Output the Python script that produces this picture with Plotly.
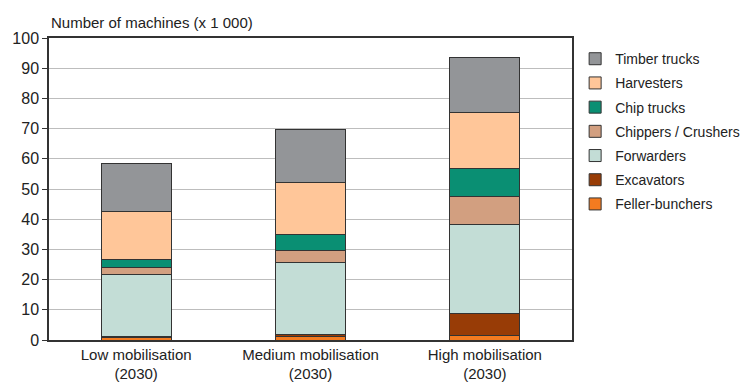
import plotly.graph_objects as go

categories = ["Low mobilisation<br>(2030)", "Medium mobilisation<br>(2030)", "High mobilisation<br>(2030)"]

# stacked from bottom to top
feller_bunchers = [0.9, 1.1, 1.4]
excavators = [0.1, 0.8, 7.4]
forwarders = [20.6, 23.8, 29.6]
chippers_crushers = [2.4, 4.1, 9.0]
chip_trucks = [2.6, 5.2, 9.5]
harvesters = [15.8, 17.2, 18.5]
timber_trucks = [16.2, 17.5, 18.1]

series = [
    ("Feller-bunchers", feller_bunchers, "#F47B20"),
    ("Excavators", excavators, "#983C06"),
    ("Forwarders", forwarders, "#C3DDD6"),
    ("Chippers / Crushers", chippers_crushers, "#D29F80"),
    ("Chip trucks", chip_trucks, "#0A8F73"),
    ("Harvesters", harvesters, "#FFC699"),
    ("Timber trucks", timber_trucks, "#939598"),
]

font = "'Liberation Sans', Arial, sans-serif"

fig = go.Figure()
n = len(series)
for i, (name, vals, color) in enumerate(series):
    fig.add_trace(go.Bar(
        x=categories, y=vals, name=name, legendgroup=name,
        legendrank=n - i,
        marker=dict(color=color, line=dict(color="#333333", width=1)),
        width=0.4,
    ))

# page body has an 8px margin, so the figure is 8px smaller than the window
fig.update_layout(
    barmode="stack",
    width=744, height=375,
    margin=dict(l=41, r=180, t=30, b=43, autoexpand=False),
    plot_bgcolor="white", paper_bgcolor="white",
    font=dict(family=font, size=15, color="#222222"),
    showlegend=True,
    legend=dict(
        x=1.006, y=0.983, xanchor="left", yanchor="top",
        traceorder="grouped", tracegroupgap=3,
        font=dict(size=14, color="#222222"),
        bgcolor="rgba(0,0,0,0)",
    ),
    xaxis=dict(
        showline=True, linecolor="#333333", linewidth=1.5, mirror=True,
        ticks="", tickfont=dict(size=15), automargin=False,
        range=[-0.5, 2.5],
    ),
    yaxis=dict(
        range=[0, 100], dtick=10, tick0=0,
        showline=True, linecolor="#333333", linewidth=1.5, mirror=True,
        ticks="outside", ticklen=5, tickcolor="#333333",
        showgrid=True, gridcolor="#BDBDBD", gridwidth=1,
        tickfont=dict(size=16), zeroline=False, automargin=False,
    ),
    annotations=[dict(
        text="Number of machines (x 1 000)", x=0, y=1.0, xref="paper", yref="paper",
        xanchor="left", yanchor="bottom", yshift=5, showarrow=False,
        font=dict(size=15, color="#222222"),
    )],
)

fig.write_html("out.html")
